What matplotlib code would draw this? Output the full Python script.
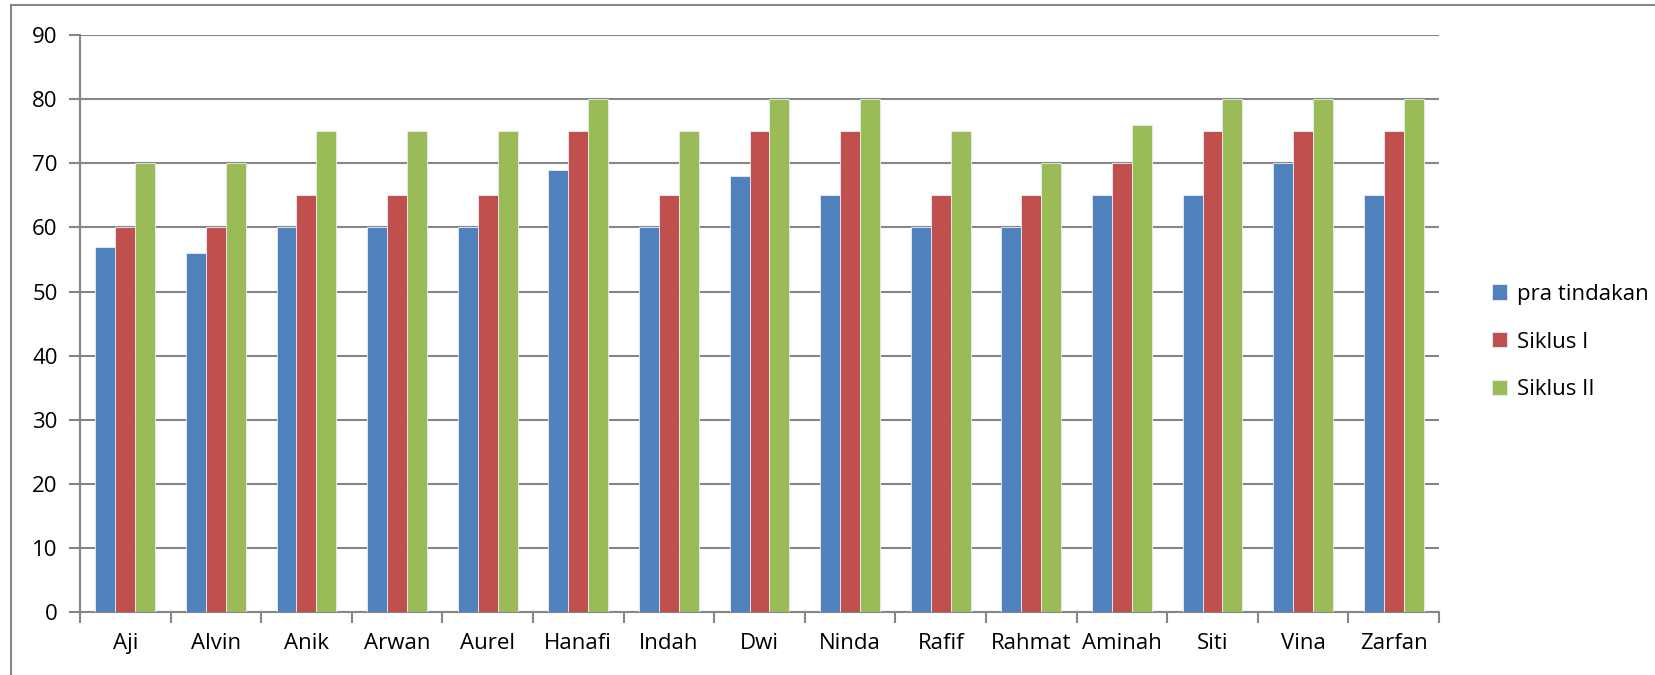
import numpy as np
from matplotlib import pyplot as plt
from matplotlib.lines import Line2D

names = ["Aji", "Alvin", "Anik", "Arwan", "Aurel", "Hanafi", "Indah", "Dwi",
         "Ninda", "Rafif", "Rahmat", "Aminah", "Siti", "Vina", "Zarfan"]
pra_tindakan = [57, 56, 60, 60, 60, 69, 60, 68, 65, 60, 60, 65, 65, 70, 65]
siklus_1 = [60, 60, 65, 65, 65, 75, 65, 75, 75, 65, 65, 70, 75, 75, 75]
siklus_2 = [70, 70, 75, 75, 75, 80, 75, 80, 80, 75, 70, 76, 80, 80, 80]

series = [("pra tindakan", pra_tindakan, "#4F81BD"),
          ("Siklus I", siklus_1, "#C0504D"),
          ("Siklus II", siklus_2, "#9BBB59")]

plt.rcParams['font.family'] = ['Open Sans', 'DejaVu Sans']
grey = "#868686"
fs = 16

fig = plt.figure(figsize=(16.55, 6.75), dpi=100)
ax = fig.add_axes([0.0483, 0.0933, 0.8212, 0.8547])

x = np.arange(len(names))
w = 0.22
for i, (lab, vals, col) in enumerate(series):
    ax.bar(x + (i - 1) * w, vals, w, color=col, label=lab,
           edgecolor="#e8eef5", linewidth=0.6, zorder=3)

ax.set_xlim(-0.5, len(names) - 0.5)
ax.set_ylim(0, 90)
ax.set_yticks(range(0, 91, 10))
ax.yaxis.grid(True, color=grey, linewidth=1.5, zorder=0)

ax.set_xticks(x)
ax.set_xticklabels(names)
ax.set_xticks(np.arange(-0.5, len(names), 1), minor=True)
ax.tick_params(axis="x", which="major", length=0, labelsize=fs, pad=15)
ax.tick_params(axis="x", which="minor", length=8, width=1.5, color=grey)
ax.tick_params(axis="y", length=8, width=1.5, color=grey, labelsize=fs, pad=8)

for s in ["top", "right"]:
    ax.spines[s].set_visible(False)
for s in ["left", "bottom"]:
    ax.spines[s].set_color(grey)
    ax.spines[s].set_linewidth(1.5)

ax.legend(loc="center left", bbox_to_anchor=(1.024, 0.468), frameon=False,
          fontsize=fs, handlelength=0.68, handleheight=0.68,
          labelspacing=1.2, handletextpad=0.45)

# outer chart-area border (only top and left edges are visible)
top = 1 - 5 / 675
left = 11 / 1655
fig.lines.append(Line2D([left, 1], [top, top], transform=fig.transFigure,
                        color=grey, linewidth=1.5))
fig.lines.append(Line2D([left, left], [0, top], transform=fig.transFigure,
                        color=grey, linewidth=1.5))

plt.savefig("out.png", dpi=100)
